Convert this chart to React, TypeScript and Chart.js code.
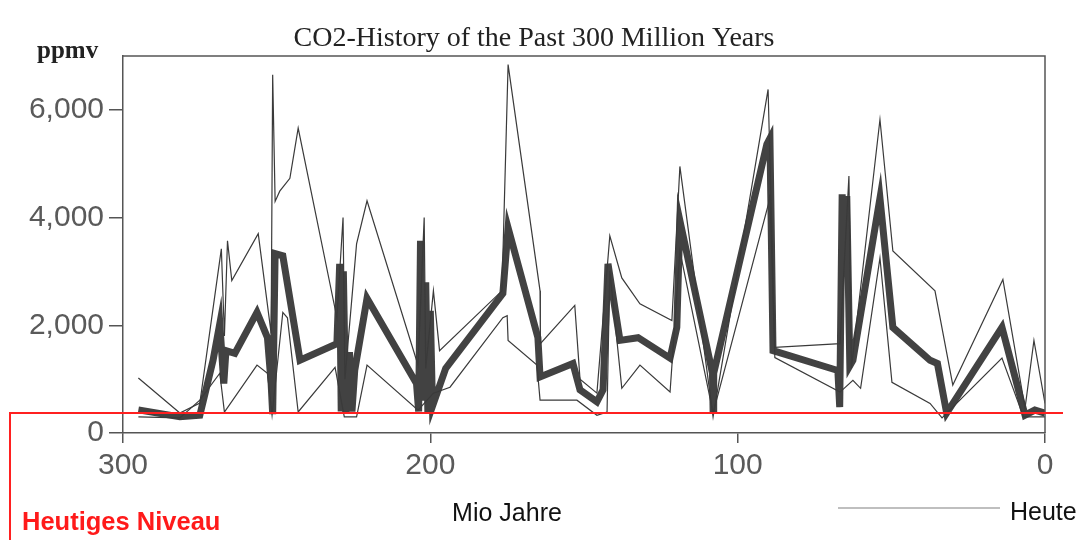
import React, { useEffect, useRef } from "react";
import { Chart, registerables } from "chart.js";

Chart.register(...registerables);

// ---- Data (age in million years before present, CO2 in ppmv) ----
const midAges = [295, 281.5, 275, 270.7, 268.5, 267.2, 266.5, 263.6, 256.4, 253, 251.8, 251.3, 250.5, 248, 242.4, 230.4, 229.5, 229, 228.3, 227.5, 226.3, 225.5, 224.6, 220.6, 204.5, 203.8, 203.2, 202.3, 201.5, 200.8, 200, 199.3, 195, 176.4, 174.7, 165, 164.3, 153.6, 151.3, 145.8, 143.8, 142.2, 138.3, 132.4, 122, 119.8, 118.8, 108.2, 108, 107.8, 90.5, 89.5, 88.5, 67.4, 66.8, 66, 65, 64.5, 63.5, 62.5, 53.7, 49.5, 37.4, 35, 32, 14, 6.5, 3.3, 0];
const midValues = [430, 300, 330, 1350, 2030, 920, 1530, 1480, 2240, 1770, 920, 350, 3330, 3290, 1350, 1660, 3140, 400, 3000, 370, 1500, 400, 1160, 2500, 920, 400, 3570, 600, 2800, 370, 2270, 500, 1200, 2590, 3810, 1770, 1040, 1290, 800, 580, 800, 3140, 1720, 1770, 1390, 1960, 3940, 1110, 420, 1110, 5360, 5470, 1530, 1160, 480, 4430, 3000, 4400, 1250, 1350, 4360, 1960, 1350, 1290, 370, 1960, 330, 425, 370];

const upperAges = [295, 281.5, 275, 268, 267, 266, 264.6, 256, 251.8, 251.3, 250.5, 249, 245.7, 243, 230.4, 228.4, 227.8, 224, 220.6, 204, 202, 201.5, 199, 197, 176.7, 174.7, 164.3, 164.2, 153, 151.3, 145.8, 141.6, 137.7, 131.8, 121.4, 118.8, 108, 90.1, 87.9, 66.7, 63.8, 63, 53.7, 49.5, 35.8, 30, 13.7, 6.5, 3.6, 0];
const upperValues = [1020, 370, 555, 3420, 1800, 3570, 2830, 3700, 1850, 6650, 4300, 4490, 4730, 5660, 2140, 4000, 1000, 3510, 4310, 1260, 4000, 1200, 2640, 1530, 2640, 6840, 2640, 1660, 2370, 1000, 740, 3660, 2880, 2400, 2090, 4950, 300, 6380, 1590, 1660, 4770, 1200, 5820, 3380, 2640, 890, 2850, 460, 1720, 550];

const lowerAges = [295, 281.5, 275, 268.5, 267, 256.4, 253, 251.5, 248, 246.5, 243, 231, 228, 224, 220.6, 204, 199, 193.6, 176.4, 175, 174.7, 165.3, 164.3, 152.3, 145.8, 142.5, 141.6, 137.7, 131.8, 122, 118.8, 108, 90, 89.5, 87.9, 66.7, 62.5, 60, 53.7, 49.8, 37.4, 33.5, 14, 7, 0];
const lowerValues = [300, 280, 610, 1110, 390, 1260, 1110, 330, 2240, 2140, 390, 1220, 300, 300, 1260, 425, 740, 850, 2140, 2180, 1720, 1260, 610, 610, 330, 390, 3010, 830, 1260, 760, 3380, 370, 4250, 4430, 1400, 760, 980, 830, 3250, 940, 550, 280, 1390, 300, 300];

const currentLevel = 370; // "Heutiges Niveau"
const yTicks = [0, 2000, 4000, 6000];
const xTicks = [300, 200, 100, 0];

const titleText = "CO2-History of the Past 300 Million Years";
const yUnitText = "ppmv";
const xLabelText = "Mio Jahre";
const todayText = "Heute";
const levelText = "Heutiges Niveau";

function toPoints(ages: number[], values: number[]) {
  return ages.map((a, i) => ({ x: a, y: values[i] }));
}

const decorPlugin = {
  id: "decor",
  afterDraw(chart: any) {
    const ctx = chart.ctx;
    const ca = chart.chartArea;
    const yScale = chart.scales.y;
    ctx.save();
    // top and right frame
    ctx.strokeStyle = "#555";
    ctx.lineWidth = 1.5;
    ctx.beginPath();
    ctx.moveTo(ca.left, ca.top);
    ctx.lineTo(ca.right, ca.top);
    ctx.lineTo(ca.right, ca.bottom);
    ctx.stroke();

    // title
    ctx.fillStyle = "#222";
    ctx.font = '28px "Liberation Serif", serif';
    ctx.textAlign = "center";
    ctx.textBaseline = "alphabetic";
    ctx.fillText(titleText, 534, 46);

    // unit
    ctx.font = 'bold 25px "Liberation Serif", serif';
    ctx.textAlign = "left";
    ctx.fillText(yUnitText, 37, 58);

    // x label
    ctx.fillStyle = "#111";
    ctx.font = '25px "Liberation Sans", Arial, sans-serif';
    ctx.textAlign = "center";
    ctx.textBaseline = "middle";
    ctx.fillText(xLabelText, 507, 514);

    // Heute + grey line
    ctx.textAlign = "left";
    ctx.fillText(todayText, 1010, 513);
    ctx.strokeStyle = "#aaa";
    ctx.lineWidth = 1.5;
    ctx.beginPath();
    ctx.moveTo(838, 508);
    ctx.lineTo(1000, 508);
    ctx.stroke();

    // red current level box
    const yRed = yScale.getPixelForValue(currentLevel);
    ctx.strokeStyle = "#ff2020";
    ctx.lineWidth = 2;
    ctx.beginPath();
    ctx.moveTo(10, 540);
    ctx.lineTo(10, yRed);
    ctx.lineTo(1063, yRed);
    ctx.stroke();
    ctx.fillStyle = "#ff1a1a";
    ctx.font = 'bold 25.5px "Liberation Sans", Arial, sans-serif';
    ctx.textAlign = "left";
    ctx.textBaseline = "middle";
    ctx.fillText(levelText, 22, 523);
    ctx.restore();
  },
};

export default function App() {
  const ref = useRef<HTMLCanvasElement | null>(null);
  useEffect(() => {
    if (!ref.current) return;
    const chart = new Chart(ref.current, {
      type: "line",
      data: {
        datasets: [
          {
            label: "upper",
            data: toPoints(upperAges, upperValues),
            borderColor: "#3a3a3a",
            borderWidth: 1.2,
            pointRadius: 0,
            tension: 0,
            fill: false,
          },
          {
            label: "lower",
            data: toPoints(lowerAges, lowerValues),
            borderColor: "#3a3a3a",
            borderWidth: 1.2,
            pointRadius: 0,
            tension: 0,
            fill: false,
          },
          {
            label: "mean",
            data: toPoints(midAges, midValues),
            borderColor: "#424242",
            borderWidth: 7,
            borderJoinStyle: "miter",
            pointRadius: 0,
            tension: 0,
            fill: false,
          },
        ],
      },
      options: {
        responsive: false,
        animation: false,
        layout: { padding: { left: 0, top: 56, right: 35, bottom: 0 } },
        plugins: {
          legend: { display: false },
          title: { display: false },
          tooltip: { enabled: false },
        },
        scales: {
          x: {
            type: "linear",
            reverse: true,
            min: 0,
            max: 300,
            afterBuildTicks: (s: any) => {
              s.ticks = xTicks.map((v) => ({ value: v }));
            },
            afterFit: (s: any) => {
              s.height = 107;
            },
            border: { display: true, color: "#555", width: 1.5 },
            grid: { display: true, drawOnChartArea: false, drawTicks: true, tickLength: 10, color: "#555", lineWidth: 1.5 },
            ticks: {
              color: "#5a5a5a",
              padding: 5,
              maxRotation: 0,
              font: { family: '"Liberation Sans", Arial, sans-serif', size: 30 },
              callback: (v: any) => String(v),
            },
          },
          y: {
            type: "linear",
            min: 0,
            max: 7000,
            afterBuildTicks: (s: any) => {
              s.ticks = yTicks.map((v) => ({ value: v }));
            },
            afterFit: (s: any) => {
              s.width = 123;
            },
            border: { display: true, color: "#555", width: 1.5 },
            grid: { display: true, drawOnChartArea: false, drawTicks: true, tickLength: 14, color: "#555", lineWidth: 1.5 },
            ticks: {
              color: "#5a5a5a",
              padding: 5,
              font: { family: '"Liberation Sans", Arial, sans-serif', size: 30 },
              callback: (v: any) => Number(v).toLocaleString("en-US"),
            },
          },
        },
      },
      plugins: [decorPlugin],
    });
    return () => chart.destroy();
  }, []);
  return (
    <div style={{ position: "absolute", left: 0, top: 0, width: 1080, height: 540, background: "#fff" }}>
      <canvas ref={ref} width={1080} height={540} style={{ display: "block", width: 1080, height: 540 }} />
    </div>
  );
}
